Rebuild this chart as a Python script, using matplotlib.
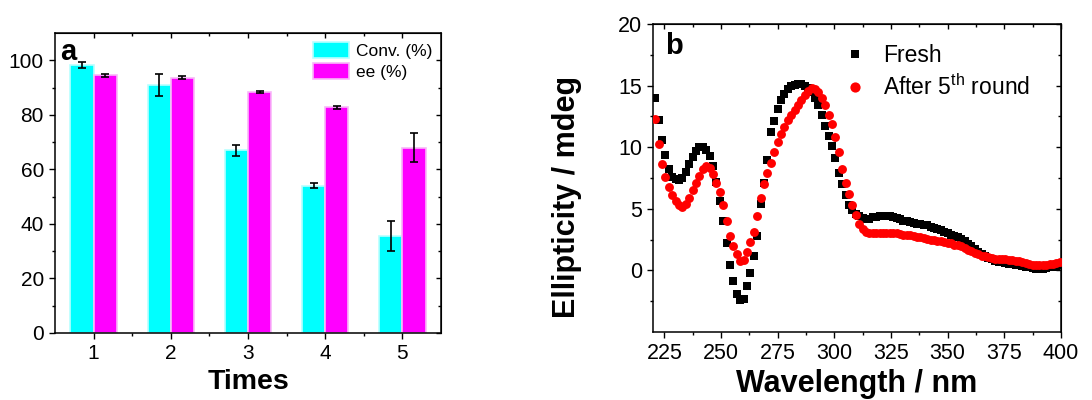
import numpy as np
import matplotlib
matplotlib.use("Agg")
import matplotlib.pyplot as plt
from matplotlib.ticker import FixedLocator, NullFormatter

plt.rcParams['font.family'] = ['Liberation Sans', 'DejaVu Sans']
plt.rcParams['mathtext.fontset'] = 'custom'
plt.rcParams['mathtext.rm'] = 'Liberation Sans'
plt.rcParams['mathtext.it'] = 'Liberation Sans'

# ---------------- data: panel a ----------------
times = [1, 2, 3, 4, 5]
conv = [98.2, 91.0, 67.0, 54.0, 35.5]
conv_err = [1.0, 4.0, 2.0, 1.0, 5.5]
ee = [94.5, 93.6, 88.5, 82.7, 68.0]
ee_err = [0.5, 0.5, 0.4, 0.4, 5.2]

# ---------------- data: panel b ----------------
wl_start = 221.0
wl_step = 1.5
fresh = [14.0, 12.2, 10.6, 9.4, 8.2, 7.6, 7.4, 7.35, 7.5, 8.0,
         8.6, 9.2, 9.7, 10.0, 10.0, 9.8, 9.3, 8.5, 7.2, 5.6,
         4.0, 2.2, 0.4, -0.9, -1.9, -2.4, -2.3, -1.3, -0.2, 1.2,
         2.8, 5.4, 7.1, 9.0, 11.2, 12.1, 13.1, 13.8, 14.3, 14.7,
         14.95, 15.05, 15.1, 15.1, 15.0, 14.8, 14.5, 14.0, 13.4, 12.6,
         11.7, 10.9, 10.1, 9.1, 7.9, 7.0, 6.1, 5.3, 4.9, 4.6,
         4.4, 4.25, 4.2, 4.2, 4.3, 4.35, 4.4, 4.45, 4.45, 4.4,
         4.35, 4.25, 4.15, 4.05, 4.0, 3.9, 3.85, 3.8, 3.75, 3.7,
         3.65, 3.55, 3.45, 3.4, 3.25, 3.15, 3.0, 2.9, 2.8, 2.7,
         2.55, 2.35, 2.15, 1.95, 1.7, 1.5, 1.3, 1.15, 1.0, 0.9,
         0.8, 0.7, 0.65, 0.6, 0.55, 0.5, 0.45, 0.4, 0.35, 0.3,
         0.25, 0.2, 0.15, 0.15, 0.15, 0.2, 0.25, 0.3, 0.35, 0.4]
after5 = [12.3, 10.3, 8.6, 7.6, 6.8, 6.1, 5.6, 5.3, 5.15, 5.4,
          5.9, 6.5, 7.1, 7.7, 8.2, 8.5, 8.3, 7.8, 7.1, 6.4,
          5.3, 4.0, 2.8, 2.0, 1.3, 0.8, 0.85, 1.5, 2.3, 3.1,
          4.4, 5.9, 7.0, 7.9, 8.7, 9.6, 10.4, 11.1, 11.6, 12.2,
          12.6, 13.0, 13.4, 13.85, 14.2, 14.55, 14.8, 14.75, 14.5, 14.0,
          13.4, 12.6, 11.9, 10.8, 9.6, 8.2, 7.1, 6.2, 5.3, 4.5,
          3.8, 3.4, 3.15, 3.05, 3.0, 3.0, 3.0, 3.0, 3.0, 3.0,
          3.0, 3.0, 2.95, 2.9, 2.9, 2.85, 2.8, 2.75, 2.7, 2.6,
          2.55, 2.5, 2.45, 2.4, 2.35, 2.3, 2.25, 2.2, 2.1, 2.05,
          1.95, 1.8, 1.65, 1.55, 1.4, 1.3, 1.2, 1.15, 1.05, 1.0,
          0.95, 0.95, 0.9, 0.9, 0.85, 0.85, 0.8, 0.75, 0.65, 0.6,
          0.5, 0.45, 0.4, 0.4, 0.4, 0.45, 0.5, 0.55, 0.6, 0.7]
wl_fresh = wl_start + wl_step * np.arange(len(fresh))
wl_after = wl_start + wl_step * np.arange(len(after5))

fig = plt.figure(figsize=(10.92, 4.0), dpi=100)


def style_axes(ax, xmaj, xmin, ymaj, ymin, labelsize):
    for s in ax.spines.values():
        s.set_linewidth(1.1)
        s.set_color('black')
    ax.xaxis.set_major_locator(FixedLocator(xmaj))
    ax.xaxis.set_minor_locator(FixedLocator(xmin))
    ax.yaxis.set_major_locator(FixedLocator(ymaj))
    ax.yaxis.set_minor_locator(FixedLocator(ymin))
    ax.tick_params(which='both', direction='out', top=False, right=False,
                   width=1.0, labelsize=labelsize)
    ax.tick_params(which='major', length=4.5, pad=3.5)
    ax.tick_params(which='minor', length=2.5)
    # mirrored inward ticks on top and right, without labels
    sx = ax.secondary_xaxis('top')
    sx.xaxis.set_major_locator(FixedLocator(xmaj))
    sx.xaxis.set_minor_locator(FixedLocator(xmin))
    sx.xaxis.set_major_formatter(NullFormatter())
    sx.tick_params(which='both', direction='in', width=1.0)
    sx.tick_params(which='major', length=3.5)
    sx.tick_params(which='minor', length=2)
    sy = ax.secondary_yaxis('right')
    sy.yaxis.set_major_locator(FixedLocator(ymaj))
    sy.yaxis.set_minor_locator(FixedLocator(ymin))
    sy.yaxis.set_major_formatter(NullFormatter())
    sy.tick_params(which='both', direction='in', width=1.0)
    sy.tick_params(which='major', length=3.5)
    sy.tick_params(which='minor', length=2)


# ---------------- panel a ----------------
axa = fig.add_axes([55/1092, 67/400, 386/1092, 300/400])
x = np.array(times, dtype=float)
w = 0.3
axa.bar(x - w/2, conv, w, color='#00FFFF', edgecolor='#B8FFFF', linewidth=1.2,
        label='Conv. (%)', zorder=2)
axa.bar(x + w/2, ee, w, color='#FF00FF', edgecolor='#F8B8F8', linewidth=1.2,
        label='ee (%)', zorder=2)
axa.errorbar(x - w/2, conv, yerr=conv_err, fmt='none', ecolor='black',
             elinewidth=1.2, capsize=3, capthick=1.2, zorder=3)
axa.errorbar(x + w/2, ee, yerr=ee_err, fmt='none', ecolor='black',
             elinewidth=1.2, capsize=3, capthick=1.2, zorder=3)
axa.set_xlim(0.5, 5.5)
axa.set_ylim(0, 110)
style_axes(axa, times, [1.5, 2.5, 3.5, 4.5],
           [0, 20, 40, 60, 80, 100], [10, 30, 50, 70, 90], 15)
axa.set_xlabel('Times', fontsize=20.5, fontweight='bold')
axa.xaxis.set_label_coords(0.5, -0.12)
axa.text(0.012, 0.985, 'a', transform=axa.transAxes, fontsize=21, fontweight='bold',
         ha='left', va='top')
axa.legend(loc='upper left', bbox_to_anchor=(313/1092, 1 - 42/400),
           bbox_transform=fig.transFigure, frameon=False, fontsize=12.5,
           handlelength=2.1, handleheight=1.05, handletextpad=0.35,
           labelspacing=0.25, borderpad=0, borderaxespad=0)

# ---------------- panel b ----------------
axb = fig.add_axes([653/1092, 68/400, 408/1092, 308/400])
axb.plot(wl_fresh, fresh, linestyle='none', marker='s', markersize=5.4,
         color='black', markeredgewidth=0, label='Fresh', zorder=2)
axb.plot(wl_after, after5, linestyle='none', marker='o', markersize=6.4,
         color='#FF0000', markeredgewidth=0, label='After 5$^{\\mathrm{th}}$ round',
         zorder=3)
axb.set_xlim(220, 400)
axb.set_ylim(-5, 20)
style_axes(axb, [225, 250, 275, 300, 325, 350, 375, 400],
           [237.5, 262.5, 287.5, 312.5, 337.5, 362.5, 387.5],
           [0, 5, 10, 15, 20], [-2.5, 2.5, 7.5, 12.5, 17.5], 15.5)
axb.set_xlabel('Wavelength / nm', fontsize=22, fontweight='bold')
axb.xaxis.set_label_coords(0.5, -0.12)
axb.set_ylabel('Ellipticity / mdeg', fontsize=22, fontweight='bold')
axb.yaxis.set_label_coords(-0.175, 0.44)
axb.text(0.03, 0.975, 'b', transform=axb.transAxes, fontsize=21, fontweight='bold',
         ha='left', va='top')
axb.legend(loc='upper left', bbox_to_anchor=(844/1092, 1 - 44/400),
           bbox_transform=fig.transFigure, frameon=False, fontsize=16.5,
           numpoints=1, markerscale=1.15, handlelength=1.0, handletextpad=0.7,
           labelspacing=0.3, borderpad=0, borderaxespad=0)

fig.savefig('out.png', dpi=100)
